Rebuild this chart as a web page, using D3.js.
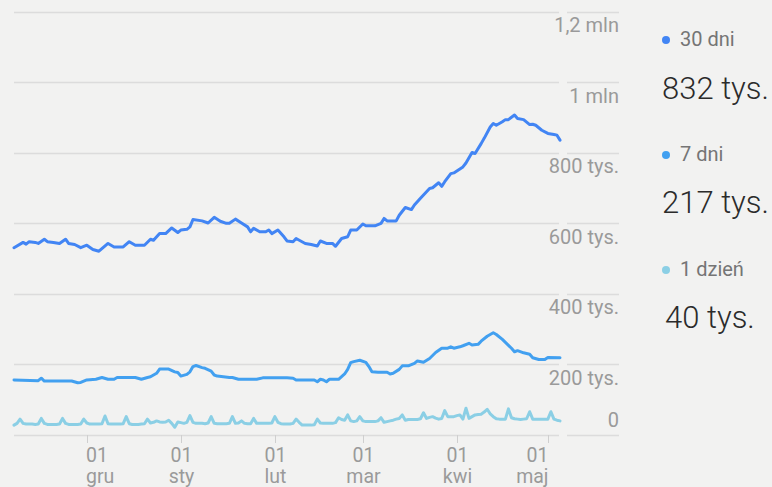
<!DOCTYPE html>
<html>
<head>
<meta charset="utf-8">
<script src="https://cdn.jsdelivr.net/npm/d3@7"></script>
<style>
  html, body { margin: 0; padding: 0; background: #f2f2f1; }
  svg { display: block; }
  text { font-family: Roboto, "Noto Sans", sans-serif; }
</style>
</head>
<body>
<svg id="chart" width="772" height="487"></svg>
<script>
// ---- data ----
const startDate = new Date(2023, 10, 7);   // 7 Nov
const endDate = new Date(2024, 4, 5);      // 5 May

const monthTicks = ["2023-12-01", "2024-01-01", "2024-02-01", "2024-03-01", "2024-04-01", "2024-05-01"];
const monthLabels = ["gru", "sty", "lut", "mar", "kwi", "maj"];

const yTickValues = [0, 200000, 400000, 600000, 800000, 1000000, 1200000];
const yTickLabels = ["0", "200 tys.", "400 tys.", "600 tys.", "800 tys.", "1 mln", "1,2 mln"];

// 30 dni (thousands), day offsets from 7 Nov
const days30 = [0,3,4,5,7,8,10,11,13,15,
  17,18,20,22,24,26,28,31,33,36,
  38,40,43,45,46,48,50,52,54,55,
  57,58,59,62,64,66,68,70,71,73,
  75,77,78,79,81,83,84,85,87,89,
  90,92,93,96,98,100,101,103,105,106,
  108,110,111,113,115,116,119,121,122,123,
  126,127,129,131,132,134,137,138,140,141,
  142,144,145,148,149,151,152,154,155,157,
  158,159,161,162,163,165,166,168,170,171,
  172,174,176,178,179,180];
const vals30 = [531,546,541,548,546,543,555,548,546,543,
  555,543,540,531,538,526,521,543,533,533,
  548,538,538,555,552,571,571,587,574,581,
  583,590,611,607,601,617,606,600,600,612,
  601,590,576,586,576,576,581,571,581,562,
  550,548,557,543,540,536,550,543,543,535,
  557,562,581,581,598,593,593,600,614,607,
  607,623,645,639,652,671,699,701,715,705,
  718,741,743,760,771,801,798,826,841,873,
  883,878,888,894,894,907,897,894,880,881,
  878,864,855,852,850,836];

// 7 dni (thousands)
const days7 = [0,8,9,10,19,21,22,24,27,29,
  31,33,34,40,42,44,45,47,48,51,
  53,54,55,57,58,59,60,62,63,65,
  66,67,71,72,74,80,82,90,92,93,
  99,100,101,102,103,104,107,109,110,111,
  112,114,116,117,118,120,123,124,125,127,
  128,130,132,133,135,137,139,141,143,144,
  145,147,148,150,151,153,154,156,157,158,
  159,161,164,165,166,168,170,171,173,175,
  176,180];
const vals7 = [156,154,161,153,153,148,149,156,158,163,
  158,158,163,163,158,163,165,175,187,187,
  179,177,167,172,179,194,197,191,189,181,
  170,167,163,163,158,158,162,162,161,156,
  156,151,158,156,151,158,158,173,186,205,
  208,212,206,194,179,178,178,173,175,186,
  196,196,203,210,206,217,234,246,246,250,
  246,250,253,260,255,257,266,280,285,290,
  285,271,246,236,239,233,229,219,214,214,
  220,219];

// 1 dzień (thousands), one value per day from 7 Nov
const vals1 = [28,33,45,33,31,31,31,30,31,47,
  33,30,30,30,30,31,47,33,30,30,
  30,30,31,45,34,31,31,31,31,32,
  54,32,31,31,31,31,32,52,32,30,
  30,30,31,32,45,34,36,40,37,36,
  37,42,33,22,37,35,33,36,55,36,
  33,33,33,32,34,52,33,32,32,32,
  32,33,52,33,34,40,33,32,32,47,
  33,33,33,33,33,34,52,36,32,31,
  31,31,33,45,36,28,28,28,28,29,
  45,34,33,33,33,33,35,49,44,42,
  57,40,38,40,52,40,38,38,38,38,
  40,49,36,38,40,42,45,47,57,42,
  44,44,44,44,46,63,47,50,52,48,
  45,47,69,52,52,52,55,57,45,76,
  47,52,57,58,59,65,73,60,52,46,
  45,45,45,74,49,46,45,44,45,46,
  66,45,45,45,45,45,45,66,45,42,
  40];

const legendNames = ["30 dni", "7 dni", "1 dzień"];
const legendValues = ["832 tys.", "217 tys.", "40 tys."];
const colors = ["#4285f4", "#42a0f0", "#8bcfe5"];

// ---- drawing ----
const svg = d3.select("#chart");
const x = d3.scaleTime().domain([startDate, endDate]).range([14, 560]);
const y = d3.scaleLinear().domain([0, 1200000]).range([435, 11.7]);
const dayDate = d => d3.timeDay.offset(startDate, d);
const parse = d3.timeParse("%Y-%m-%d");

// gridlines (two segments: plot area, label area)
const grid = svg.append("g");
yTickValues.forEach(v => {
  const yy = Math.round(y(v)) + 0.5;
  grid.append("line").attr("x1", 14).attr("x2", 559).attr("y1", yy).attr("y2", yy)
    .attr("stroke", "#dcdcdc").attr("stroke-width", 1.5);
  grid.append("line").attr("x1", 567).attr("x2", 619).attr("y1", yy).attr("y2", yy)
    .attr("stroke", "#dcdcdc").attr("stroke-width", 1.5);
});

// y labels
yTickValues.forEach((v, i) => {
  svg.append("text")
    .attr("x", 619)
    .attr("y", v === 0 ? y(v) - 8 : y(v) + 20.5)
    .attr("text-anchor", "end")
    .attr("font-size", 20)
    .attr("fill", "#9a9a9a")
    .text(yTickLabels[i]);
});

// x ticks
monthTicks.forEach((m, i) => {
  const xx = Math.round(x(parse(m))) + 0.5;
  svg.append("line").attr("x1", xx).attr("x2", xx).attr("y1", 435).attr("y2", 443)
    .attr("stroke", "#cfcfcf").attr("stroke-width", 1);
  const anchor = i === 0 ? "start" : (i === monthTicks.length - 1 ? "end" : "middle");
  const xt = i === 0 ? xx - 1.5 : xx;
  svg.append("text")
    .attr("x", xt).attr("y", 461.5)
    .attr("text-anchor", anchor)
    .attr("font-size", 19.5)
    .attr("fill", "#9a9a9a")
    .text("01");
  svg.append("text")
    .attr("x", xt).attr("y", 483)
    .attr("text-anchor", anchor)
    .attr("font-size", 19.5)
    .attr("fill", "#9a9a9a")
    .text(monthLabels[i]);
});

// lines
const line = d3.line().x(d => x(dayDate(d[0]))).y(d => y(d[1] * 1000)).curve(d3.curveLinear);
const series = [
  days30.map((d, i) => [d, vals30[i]]),
  days7.map((d, i) => [d, vals7[i]]),
  vals1.map((v, i) => [i, v])
];
[2, 1, 0].forEach(k => {
  svg.append("path")
    .datum(series[k])
    .attr("d", line)
    .attr("fill", "none")
    .attr("stroke", colors[k])
    .attr("stroke-width", 3)
    .attr("stroke-linejoin", "round")
    .attr("stroke-linecap", "round");
});

// legend
const legendY = [46, 161, 276];
const valueY = [99, 213, 328];
const valueX = [662, 662, 665];
legendNames.forEach((n, i) => {
  svg.append("circle").attr("cx", 666).attr("cy", legendY[i] - 6).attr("r", 4).attr("fill", colors[i]);
  svg.append("text").attr("x", 680).attr("y", legendY[i]).attr("font-size", 20)
    .attr("fill", "#757575").text(n);
  svg.append("text").attr("x", valueX[i]).attr("y", valueY[i]).attr("font-size", 31)
    .attr("font-weight", 300).attr("fill", "#2b2b2b").text(legendValues[i]);
});
</script>
</body>
</html>
